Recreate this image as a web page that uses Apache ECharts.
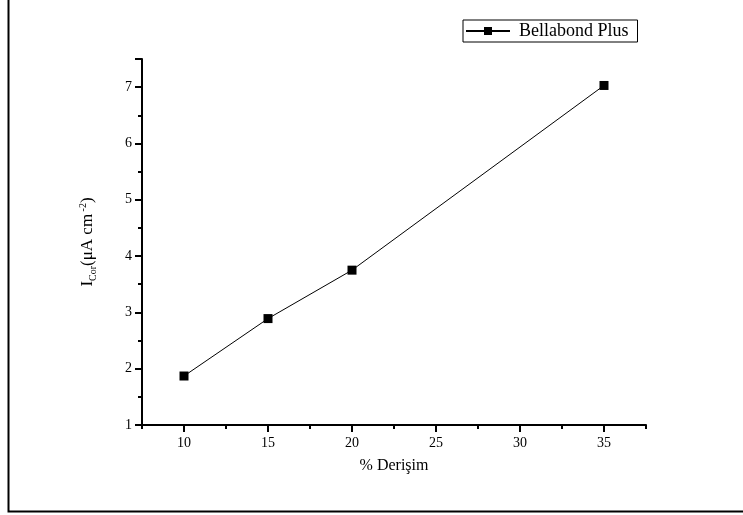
<!DOCTYPE html>
<html>
<head>
<meta charset="utf-8">
<script src="https://cdn.jsdelivr.net/npm/echarts@6/dist/echarts.min.js"></script>
<style>
html, body { margin: 0; padding: 0; background: #fff; }
#main { width: 743px; height: 515px; }
</style>
</head>
<body>
<div id="main"></div>
<script>
var concentration = [10, 15, 20, 35];
var icor = [1.87, 2.89, 3.75, 7.03];
var seriesName = 'Bellabond Plus';

var data = concentration.map(function (c, i) {
    return [c, icor[i]];
});

var font = 'Liberation Serif';

var option = {
    animation: false,
    backgroundColor: '#fff',
    textStyle: { fontFamily: font, color: '#000' },
    graphic: [{
        type: 'polyline',
        shape: { points: [[8.5, 0], [8.5, 511.5], [743, 511.5]] },
        style: { stroke: '#000', lineWidth: 2, fill: null }
    }],
    legend: {
        data: [seriesName],
        left: 463,
        top: 20,
        padding: [2, 9, 2, 2],
        itemWidth: 44,
        itemHeight: 10,
        itemGap: 0,
        borderColor: '#000',
        borderWidth: 1,
        borderRadius: 0,
        textStyle: { fontFamily: font, fontSize: 18, color: '#000', padding: [0, 0, 0, 4] }
    },
    grid: {
        left: 142,
        top: 59,
        width: 504,
        height: 366
    },
    xAxis: [{
        type: 'value',
        min: 7.5,
        max: 37.5,
        interval: 5,
        axisLine: { lineStyle: { color: '#000', width: 2 } },
        axisTick: { length: 4, lineStyle: { color: '#000', width: 2 } },
        minorTick: { show: true, splitNumber: 2, length: 7, lineStyle: { color: '#000', width: 2 } },
        axisLabel: { show: false },
        splitLine: { show: false }
    }, {
        type: 'value',
        min: 7.5,
        max: 37.5,
        interval: 2.5,
        position: 'bottom',
        axisLine: { show: false },
        axisTick: { show: false },
        splitLine: { show: false },
        axisLabel: {
            margin: 11,
            fontFamily: font,
            fontSize: 14,
            color: '#000',
            formatter: function (v) { return v % 5 === 0 ? String(v) : ''; }
        },
        name: '% Derişim',
        nameLocation: 'middle',
        nameGap: 33,
        nameTextStyle: { fontFamily: font, fontSize: 16, color: '#000' }
    }],
    yAxis: {
        type: 'value',
        min: 1,
        max: 7.5,
        interval: 1,
        axisLine: { lineStyle: { color: '#000', width: 2 } },
        axisTick: { length: 7, lineStyle: { color: '#000', width: 2 } },
        minorTick: { show: true, splitNumber: 2, length: 4, lineStyle: { color: '#000', width: 2 } },
        splitLine: { show: false },
        axisLabel: {
            margin: 10,
            fontFamily: font,
            fontSize: 14,
            color: '#000',
            formatter: function (v) { return v % 1 === 0 ? String(v) : ''; }
        },
        name: 'I{sub|Cor}(μA cm{sup| -2})',
        nameLocation: 'middle',
        nameGap: 44,
        nameTextStyle: {
            fontFamily: font,
            fontSize: 17,
            color: '#000',
            rich: {
                sub: { fontFamily: font, fontSize: 10, color: '#000', verticalAlign: 'bottom', padding: [10, 0, 0, 0] },
                sup: { fontFamily: font, fontSize: 10, color: '#000', verticalAlign: 'top', padding: [0, 0, 10, 0] }
            }
        }
    },
    series: [{
        name: seriesName,
        type: 'line',
        xAxisIndex: 0,
        data: data,
        symbol: 'rect',
        symbolSize: 9,
        lineStyle: { color: '#000', width: 1 },
        itemStyle: { color: '#000' }
    }]
};

var myChart = echarts.init(document.getElementById('main'));
myChart.setOption(option);
</script>
</body>
</html>
